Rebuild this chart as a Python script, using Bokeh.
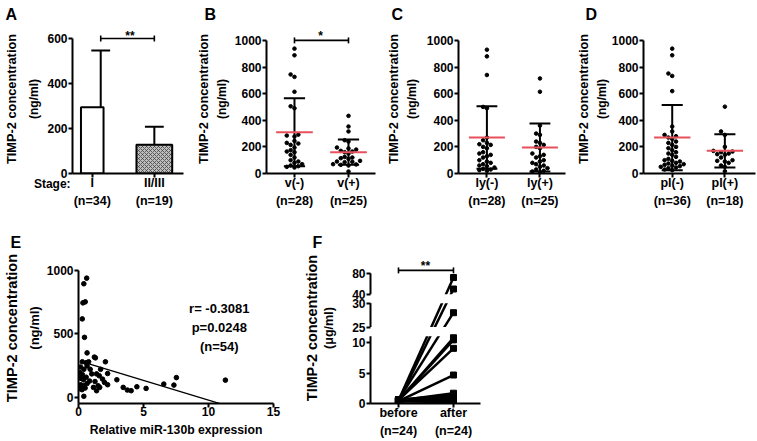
import math
import numpy as np
from bokeh.plotting import figure
from bokeh.layouts import row, column
from bokeh.models import Range1d, FixedTicker, Label, Spacer, LinearAxis, Title
from bokeh.core.properties import value
from bokeh.embed import file_html
from bokeh.resources import INLINE

FONT = "Liberation Sans"
RED = "#e8505b"

# ---------------- data ----------------
a_groups = ["I", "II/III"]
a_counts = ["(n=34)", "(n=19)"]
a_means = [295, 128]
a_sds = [252, 80]

b_groups = ["v(-)", "v(+)"]
b_counts = ["(n=28)", "(n=25)"]
b_neg = [938, 888, 744, 726, 614, 505, 490, 292, 285, 278, 245, 230, 225, 215, 195,
         175, 165, 160, 140, 120, 100, 90, 80, 70, 60, 55, 50, 45]
b_pos = [433, 353, 316, 250, 240, 195, 188, 180, 170, 165, 160, 150, 125, 120, 115,
         110, 95, 90, 88, 85, 70, 68, 65, 60, 15]
b_means = [310, 160]
b_sds = [255, 95]

c_groups = ["ly(-)", "ly(+)"]
c_counts = ["(n=28)", "(n=25)"]
c_neg = [930, 880, 740, 500, 490, 270, 250, 230, 220, 215, 200, 190, 160, 150, 140,
         130, 120, 100, 90, 80, 70, 60, 55, 45, 35, 30, 25, 20]
c_pos = [714, 614, 360, 300, 290, 240, 230, 215, 200, 190, 150, 140, 130, 120, 100,
         90, 80, 70, 60, 50, 40, 30, 20, 15, 10]
c_means = [270, 195]
c_sds = [235, 180]

d_groups = ["pl(-)", "pl(+)"]
d_counts = ["(n=36)", "(n=18)"]
d_neg = [938, 888, 751, 733, 619, 353, 316, 290, 280, 270, 260, 240, 230, 215, 200,
         190, 175, 160, 150, 140, 125, 110, 100, 95, 90, 80, 75, 70, 65, 60, 55, 50,
         45, 40, 30, 25]
d_pos = [502, 316, 290, 200, 170, 165, 160, 150, 145, 140, 120, 100, 95, 90, 80, 60, 50, 17]
d_means = [270, 170]
d_sds = [245, 125]

e_x = [0.63, 0.41, 0.34, 0.52, 0.29, 0.46, 0.66, 0.29, 0.59, 0.78,
       1.22, 1.30, 2.07, 0.10, 0.41, 0.66, 0.90, 1.70, 1.02, 1.39,
       2.24, 0.05, 0.22, 0.39, 0.59, 1.60, 1.85, 2.95, 0.17, 0.41,
       0.66, 1.27, 1.51, 2.00, 2.24, 0.05, 0.27, 0.51, 1.15, 1.39,
       1.63, 3.44, 3.76, 4.05, 4.49, 5.20, 6.56, 7.34, 7.53, 11.30,
       0.41, 0.15, 0.85, 0.30]
e_y = [938, 894, 744, 752, 618, 473, 351, 281, 274, 281,
       318, 312, 281, 196, 222, 248, 222, 222, 186, 186,
       189, 155, 150, 140, 160, 171, 145, 140, 101, 95,
       110, 126, 93, 119, 101, 70, 62, 75, 80, 54,
       80, 80, 59, 54, 85, 72, 106, 98, 157, 137,
       10, 240, 130, 180]
e_fit = [290.0, -31.0]          # intercept, slope
e_fit_x = [0.3, 11.3]
e_stats = ["r= -0.3081", "p=0.0248", "(n=54)"]
e_xticks = [0, 5, 10, 15]
e_yticks = [0, 500, 1000]
e_xtitle = "Relative miR-130b expression"

f_groups = ["before", "after"]
f_counts = ["(n=24)", "(n=24)"]
f_before = [0.5, 0.4, 0.6, 0.5, 0.45, 0.55, 0.4, 0.5, 0.6, 0.35, 0.5, 0.45,
            0.55, 0.4, 0.5, 0.6, 0.45, 0.5, 0.35, 0.55, 0.4, 0.5, 0.45, 0.6]
f_after = [72, 50, 28, 10.85, 10.5, 9.1, 4.7, 1.7, 1.4, 1.1, 0.9, 0.8,
           0.7, 0.6, 0.55, 0.5, 0.45, 0.4, 0.4, 0.35, 0.3, 0.3, 0.25, 0.2]
f_ticks = [0, 5, 10, 25, 30, 40, 80]
f_segments = [(0, 11.1), (25, 30), (40, 80)]
f_break_values = [0, 11.1, 25, 30, 40, 80]

Y_TITLE = "TIMP-2 concentration"

# ---------------- helpers ----------------
F_BREAK_PX = [0, 67.7, 77, 101, 110, 131]   # broken-axis geometry (pixels above the x axis)


def fmap(v):
    return float(np.interp(v, f_break_values, F_BREAK_PX))


def style_axis(ax, size="12px"):
    ax.axis_line_width = 2
    ax.axis_line_color = "black"
    ax.major_tick_line_width = 2
    ax.major_tick_line_color = "black"
    ax.major_tick_in = 0
    ax.major_tick_out = 4
    ax.minor_tick_line_color = None
    ax.major_label_text_font = FONT
    ax.major_label_text_font_style = "bold"
    ax.major_label_text_font_size = size
    ax.major_label_text_color = "black"
    ax.major_label_standoff = 1
    ax.axis_label_text_font = FONT
    ax.axis_label_text_font_style = "bold"
    ax.axis_label_text_color = "black"


def make_panel(box, frame, xmap, ymap):
    L, T, W, H = box
    fl, ft, fr, fb = frame
    (xv1, xp1), (xv2, xp2) = xmap
    kx = (xp2 - xp1) / (xv2 - xv1)
    (yv1, yp1), (yv2, yp2) = ymap
    ky = (yp1 - yp2) / (yv2 - yv1)
    x0 = xv1 + (fl - xp1) / kx
    x1 = xv1 + (fr - xp1) / kx
    y0 = yv1 - (fb - yp1) / ky
    y1 = yv1 + (yp1 - ft) / ky
    p = figure(width=W, height=H, x_range=Range1d(x0, x1), y_range=Range1d(y0, y1),
               output_backend="svg", toolbar_location=None, title=None,
               min_border_left=fl - L, min_border_right=L + W - fr,
               min_border_top=ft - T, min_border_bottom=T + H - fb)
    p.xgrid.visible = False
    p.ygrid.visible = False
    p.outline_line_color = None
    p.background_fill_color = "white"
    p.border_fill_color = "white"
    style_axis(p.xaxis[0])
    style_axis(p.yaxis[0])
    return dict(p=p, kx=kx, ky=ky, x0=x0, x1=x1, y0=y0, y1=y1, fl=fl,
                X=lambda px: x0 + (px - fl) / kx,
                Y=lambda py: y0 + (fb - py) / ky)


def txt(p, x, y, s, size="12.5px", align="center", baseline="middle", angle=0.0):
    p.add_layout(Label(x=x, y=y, text=s, text_font=FONT, text_font_style="bold",
                       text_font_size=size, text_color="black", text_align=align,
                       text_baseline=baseline, angle=angle))


def letter(G, s, letter_x):
    G["p"].add_layout(Title(text=s, text_font=FONT, text_font_style="bold",
                            text_font_size="16px", text_color="black", align="left",
                            offset=letter_x - G["fl"] - 5, standoff=3), "above")


def y_titles(G, sub, sub_size, sub_standoff, main_size, main_standoff, bounds):
    ax = G["p"].yaxis[0]
    ax.axis_label = sub
    ax.axis_label_text_font_size = sub_size
    ax.axis_label_standoff = sub_standoff
    t = LinearAxis(ticker=FixedTicker(ticks=[]), bounds=bounds, axis_line_color=None,
                   major_tick_line_color=None, major_tick_out=0, major_tick_in=0,
                   major_label_standoff=0, minor_tick_line_color=None,
                   axis_label=Y_TITLE, axis_label_text_font=FONT,
                   axis_label_text_font_style="bold", axis_label_text_font_size=main_size,
                   axis_label_text_color="black", axis_label_standoff=main_standoff)
    G["p"].add_layout(t, "left")


def x_categories(G, groups, counts, count_standoff=1):
    p = G["p"]
    p.xaxis[0].ticker = FixedTicker(ticks=[1, 2])
    p.xaxis[0].major_label_overrides = {1: groups[0], 2: groups[1]}
    p.xaxis[0].major_label_text_font_size = "12.5px"
    p.xaxis[0].major_label_standoff = -2
    n_ax = LinearAxis(ticker=FixedTicker(ticks=[1, 2]),
                      major_label_overrides={1: counts[0], 2: counts[1]})
    style_axis(n_ax, "12.5px")
    n_ax.axis_line_color = None
    n_ax.major_tick_line_color = None
    n_ax.major_tick_out = 0
    n_ax.major_label_standoff = count_standoff
    p.add_layout(n_ax, "below")


def swarm_offsets(vals, ky, d=4.2):
    order = sorted(range(len(vals)), key=lambda i: vals[i])
    placed = []
    offs = [0.0] * len(vals)
    cands = [0.0]
    for k in range(1, 15):
        cands += [-k * d * 0.95, k * d * 0.95]
    for i in order:
        y = vals[i] * ky
        for c in cands:
            if all((c - px) ** 2 + (y - py) ** 2 >= d * d for px, py in placed):
                offs[i] = c
                placed.append((c, y))
                break
    return offs


def bracket(p, xa, xb, y, ky, h=3):
    p.segment(xa, y, xb, y, line_width=1.6, color="black", level="overlay")
    p.segment([xa, xb], [y - h / ky] * 2, [xa, xb], [y + h / ky] * 2,
              line_width=1.6, color="black", level="overlay")


# ---------------- panel A ----------------
A = make_panel((0, 0, 192, 220), (65, 24, 183, 173), ((1, 86), (2, 152)), ((0, 173), (600, 38)))
pa = A["p"]
pa.yaxis[0].ticker = FixedTicker(ticks=[0, 200, 400, 600])
pa.yaxis[0].bounds = (0, 600)
x_categories(A, a_groups, a_counts)
bar_w = [24, 38]
err_off = [9, 0]
err_x = []
for i in range(2):
    pos = i + 1
    kw = {}
    if i == 1:
        kw = dict(hatch_pattern="diagonal_cross", hatch_color="#444444", hatch_scale=4, hatch_weight=0.8)
    pa.vbar(x=pos, width=bar_w[i] / A["kx"], top=a_means[i], bottom=0,
            fill_color="white" if i == 0 else "#bdbdbd", line_color="black", line_width=2, **kw)
    ex = pos + err_off[i] / A["kx"]
    err_x.append(ex)
    top = a_means[i] + a_sds[i]
    pa.segment(ex, a_means[i], ex, top, line_width=2, color="black")
    pa.segment(ex - 10 / A["kx"], top, ex + 10 / A["kx"], top, line_width=2, color="black")
bracket(pa, err_x[0], err_x[1], 600, A["ky"])
txt(pa, A["X"](126), A["Y"](35), "**", size="12px")
letter(A, "A", 3)
y_titles(A, "(ng/ml)", "12px", 3, "12.8px", 6, (0, 600))
pa.text(x=[A["X"](63)], y=[A["Y"](183)], text=["Stage:"], text_align="right",
        text_baseline="middle", text_font=value(FONT), text_font_style="bold",
        text_font_size="12px", text_color="black", level="overlay")


# ---------------- panels B, C, D ----------------
def scatter_panel(box, frame, xpx, groups, counts, series, means, sds,
                  let, letter_x, s1, s3, star_x=None, star="*"):
    G = make_panel(box, frame, ((1, xpx[0]), (2, xpx[1])), ((0, 174), (1000, 40)))
    p = G["p"]
    kx, ky = G["kx"], G["ky"]
    p.yaxis[0].ticker = FixedTicker(ticks=[0, 200, 400, 600, 800, 1000])
    p.yaxis[0].bounds = (0, 1000)
    x_categories(G, groups, counts)
    for i, vals in enumerate(series):
        pos = i + 1
        offs = swarm_offsets(vals, ky)
        p.scatter([pos + o / kx for o in offs], vals, size=3.6, color="black", marker="circle")
    for i in range(2):
        pos = i + 1
        m, s = means[i], sds[i]
        lo, hi = max(m - s, 0), m + s
        p.segment(pos, lo, pos, hi, line_width=2, color="black")
        cap = 11 / kx
        p.segment([pos - cap] * 2, [lo, hi], [pos + cap] * 2, [lo, hi], line_width=2, color="black")
        half = 19 / kx
        p.segment(pos - half, m, pos + half, m, line_width=2, color=RED)
    if star_x is not None:
        bracket(p, 1, 2, 1000, ky)
        txt(p, G["X"](star_x), G["Y"](36), star, size="12px")
    letter(G, let, letter_x)
    y_titles(G, "(ng/ml)", "12px", s1, "12.8px", s3, (0, 1000))
    return p


pb = scatter_panel((192, 0, 190, 220), (262, 24, 375, 174), (291, 347), b_groups, b_counts,
                   [b_neg, b_pos], b_means, b_sds, "B", 205, 3, 1, star_x=318)
pc = scatter_panel((382, 0, 190, 220), (452, 24, 565, 174), (482, 538), c_groups, c_counts,
                   [c_neg, c_pos], c_means, c_sds, "C", 390, 5, 1)
pd_ = scatter_panel((572, 0, 185, 220), (638, 24, 755, 174), (668, 723), d_groups, d_counts,
                    [d_neg, d_pos], d_means, d_sds, "D", 585, 0, 1)

# ---------------- panel E ----------------
E = make_panel((0, 220, 300, 220), (68, 250, 273, 403), ((0, 68), (15, 273)), ((0, 397), (1000, 268)))
pe = E["p"]
pe.xaxis[0].ticker = FixedTicker(ticks=e_xticks)
pe.xaxis[0].major_label_standoff = -1
pe.xaxis[0].axis_label = e_xtitle
pe.xaxis[0].axis_label_text_font_size = "12.2px"
pe.xaxis[0].axis_label_standoff = 4
pe.yaxis[0].ticker = FixedTicker(ticks=e_yticks)
pe.yaxis[0].bounds = (E["y0"], 1000)
pe.scatter(e_x, e_y, size=4.6, color="black", marker="circle")
fit_y = [e_fit[0] + e_fit[1] * x for x in e_fit_x]
pe.line(e_fit_x, fit_y, line_width=1.3, color="black")
for k, s in enumerate(e_stats):
    txt(pe, E["X"](216), E["Y"](307 + 19 * k), s, size="13px")
letter(E, "E", 5)
y_titles(E, "(ng/ml)", "13px", 2, "14.6px", 4, (E["y0"], 1000))

# ---------------- panel F ----------------
F = make_panel((300, 220, 190, 220), (366, 252, 480, 404), ((1, 395), (2, 452)), ((0, 404), (100, 304)))
pf = F["p"]
pf.yaxis[0].axis_line_color = None
pf.yaxis[0].bounds = (0, fmap(80))
pf.yaxis[0].ticker = FixedTicker(ticks=[fmap(t) for t in f_ticks])
pf.yaxis[0].major_label_overrides = {fmap(t): str(t) for t in f_ticks}
x_categories(F, f_groups, f_counts)
yb = [fmap(v) for v in f_before]
ya = [fmap(v) for v in f_after]
pf.segment([1] * len(yb), yb, [2] * len(ya), ya, line_width=2.5, color="black")
# blank the gaps of the broken axis
gaps_lo = [fmap(f_segments[0][1]), fmap(f_segments[1][1])]
gaps_hi = [fmap(f_segments[1][0]), fmap(f_segments[2][0])]
pf.quad(left=F["x0"], right=F["x1"], bottom=gaps_lo, top=gaps_hi,
        fill_color="white", line_color=None)
pf.scatter([1] * len(yb), yb, marker="square", size=6, color="black")
pf.scatter([2] * len(ya), ya, marker="square", size=6, color="black")
for lo, hi in f_segments:
    pf.segment(F["x0"], fmap(lo), F["x0"], fmap(hi), line_width=2, color="black", level="overlay")
bracket(pf, 1, 2, F["Y"](270), F["ky"])
txt(pf, F["X"](423), F["Y"](266), "**", size="12px")
letter(F, "F", 313)
y_titles(F, "(\u03bcg/ml)", "12.6px", 13, "14.4px", 0, (0, fmap(80)))

layout = column(row(pa, pb, pc, pd_), row(pe, pf, Spacer(width=267, height=220)))
open("out.html", "w").write(file_html(layout, INLINE))
